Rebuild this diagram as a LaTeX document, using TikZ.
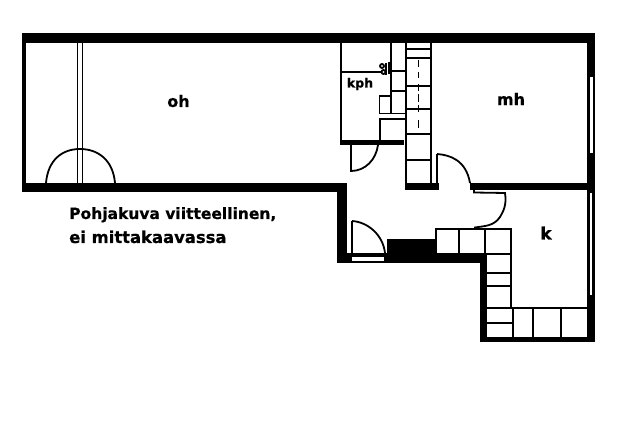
\documentclass[tikz,border=0pt]{standalone}
\usepackage{fontspec}
\setmainfont[BoldFeatures={FakeBold=0.6}]{DejaVu Sans}
\tikzset{
  wall/.style={fill=black,draw=none},
  thinl/.style={draw=black,line width=1.9pt},
  medl/.style={draw=black,line width=2.6pt},
  doorl/.style={draw=black,line width=1.8pt},
  lbl/.style={font=\bfseries\fontsize{16}{18}\selectfont,inner sep=0pt,text=black},
  capt/.style={font=\bfseries\fontsize{15.5}{18}\selectfont,inner sep=0pt,anchor=base west,text=black}
}
\begin{document}
\begin{tikzpicture}[x=1pt,y=-1pt]
\useasboundingbox (0,0) rectangle (635,427);
\fill[white] (0,0) rectangle (635,427);
% outer walls
\fill[wall] (22,33) rectangle (595,43);
\fill[wall] (22,33) rectangle (26,192);
\fill[wall] (22,183) rectangle (347,192.5);
\fill[wall] (337,183) rectangle (347,263);
\fill[wall] (337,253) rectangle (487,263);
\fill[wall] (480,253) rectangle (487,342);
\fill[wall] (480,337) rectangle (595,342);
\fill[wall] (587,33) rectangle (595,342);
\fill[wall] (387,239) rectangle (436,253);
\fill[white] (352,257) rectangle (384,261);
\fill[white] (590,77) rectangle (592.5,153);
\fill[white] (590,193) rectangle (592,295);
% inner walls
\fill[wall] (470,183) rectangle (587,190);
\fill[wall] (405,183) rectangle (439,190);
\fill[wall] (340,140) rectangle (404,145);
% oh double line
\draw[thinl] (77.5,43) -- (77.5,183);
\draw[thinl] (82.5,43) -- (82.5,183);
\draw[doorl] (46,183) .. controls (48,160) and (62,149) .. (80,149) .. controls (98,149) and (113,160) .. (115,183);
% bathroom
\draw[thinl] (341,43) -- (341,140);
\draw[thinl] (341,72) -- (382,72);
\draw[medl] (391,43) -- (391,113);
\draw[thinl] (391,71) -- (405,71);
\draw[medl] (391,91) -- (405,91);
\draw[thinl] (379.5,113) -- (379.5,96) -- (391,96);
\draw[thinl] (379,113.5) -- (405,113.5);
\draw[medl] (379,119) -- (405,119);
\draw[thinl] (380,119) -- (380,140);
% toilet
\draw[line width=1.8pt] (382,66) circle (2);
\draw[line width=1.8pt] (383.5,72) circle (2);
\draw[line width=2pt] (386,63) -- (386,75);
\draw[line width=2pt] (388.5,62) -- (388.5,74);
% wardrobe column
\draw[medl] (406,43) -- (406,183);
\draw[medl] (431,43) -- (431,183);
\foreach \yy in {49,58,86,109,134,160}{\draw[thinl] (406,\yy) -- (431,\yy);}
\draw[line width=1pt] (418,60) -- (418,67);
\draw[line width=1pt] (418,72) -- (418,78);
\draw[line width=1pt] (418,84) -- (418,91);
\draw[line width=1pt] (418,94) -- (418,102);
\draw[line width=1pt] (418,105) -- (418,112);
\draw[line width=1pt] (418,120) -- (418,128);
\draw[thinl] (437,183) -- (437,154.5);
% doors
\draw[doorl] (437,154) .. controls (450,155) and (466,160) .. (470,183);
\draw[doorl] (351,145) -- (351,171) .. controls (365,171) and (376,160) .. (378,145);
\draw[medl] (352,253) -- (352,221);
\draw[doorl] (352,221) .. controls (368,222) and (383,235) .. (385,253);
\draw[doorl] (474,190) -- (474,192.5) -- (505,193) .. controls (507,205) and (503,212) .. (500,217) .. controls (494,226) and (485,226) .. (475,227.5) -- (475,229);
% kitchen cabinets
\draw[thinl] (436,253) -- (436,229) -- (511,229) -- (511,308);
\draw[thinl] (459,229) -- (459,253);
\draw[medl] (485,229) -- (485,253);
\draw[medl] (487,254) -- (511,254);
\draw[thinl] (487,273) -- (511,273);
\draw[thinl] (487,286) -- (511,286);
\draw[thinl] (487,308) -- (587,308);
\draw[thinl] (487,323) -- (513,323);
\draw[thinl] (513,308) -- (513,337);
\draw[thinl] (533,308) -- (533,337);
\draw[thinl] (561,308) -- (561,337);
% labels
\node[lbl] (oh) at (178.5,101) {oh};
\node[lbl] (mh) at (511,99) {mh};
\node[lbl,font=\bfseries\fontsize{12.6}{14}\selectfont] (kph) at (360,84) {kph};
\node[lbl,font=\bfseries\fontsize{17}{19}\selectfont] (k) at (546,233) {k};
\node[capt] (c1) at (69,219) {Pohjakuva viitteellinen,};
\node[capt,font=\bfseries\fontsize{16.4}{18}\selectfont] (c2) at (69,243) {ei mittakaavassa};
\end{tikzpicture}
\end{document}
